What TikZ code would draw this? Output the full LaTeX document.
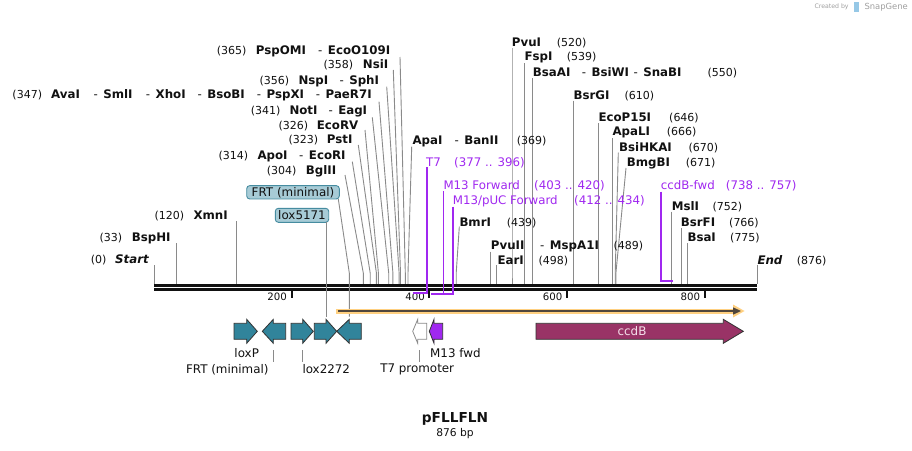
\documentclass[tikz,border=0pt]{standalone}
\usepackage{fontspec}
\setmainfont{DejaVu Sans}
\definecolor{txt}{RGB}{17,17,17}
\definecolor{leadc}{RGB}{138,138,138}
\definecolor{primc}{RGB}{160,40,240}
\definecolor{tealc}{RGB}{49,132,155}
\definecolor{boxfill}{RGB}{167,203,214}
\definecolor{boxline}{RGB}{70,140,160}
\definecolor{ccdbc}{RGB}{153,51,102}
\definecolor{ccdbtxt}{RGB}{245,225,235}
\definecolor{orangec}{RGB}{255,208,128}
\definecolor{darkc}{RGB}{80,70,60}
\definecolor{outl}{RGB}{50,50,50}
\definecolor{logoc}{RGB}{160,160,160}
\definecolor{logob}{RGB}{150,200,230}
\newcommand\leader[4]{%
  \coordinate (#1t) at (#2,#3);
  \coordinate (#1b) at (#4,284);
  \draw[leadc, line width=0.9pt] (#1t) -- (#4,273) -- (#1b);}
\newcommand\rarrow[4]{%
  \filldraw[fill=#4, draw=outl, line width=0.8pt] (#1,323.3) -- (#2,323.3) -- (#2,319.3) -- (#3,331.3) -- (#2,343.3) -- (#2,339.3) -- (#1,339.3) -- cycle;}
\newcommand\larrow[4]{%
  \filldraw[fill=#4, draw=outl, line width=0.8pt] (#1,331.3) -- (#2,319.3) -- (#2,323.3) -- (#3,323.3) -- (#3,339.3) -- (#2,339.3) -- (#2,343.3) -- cycle;}
\begin{document}
\begin{tikzpicture}[x=1pt,y=-1pt,
  num/.style={anchor=base west, inner sep=0pt, font=\fontsize{11}{13}\selectfont, text=txt},
  enz/.style={anchor=base west, inner sep=0pt, font=\fontsize{11.8}{13}\selectfont\bfseries, text=txt},
  primtxt/.style={anchor=base west, inner sep=0pt, font=\fontsize{11.8}{13}\selectfont, text=primc},
  prim/.style={draw=primc, line width=1.8pt},
  ftxt/.style={inner sep=0pt, font=\fontsize{11.9}{13}\selectfont, text=txt},
  fbox/.style={draw=boxline, fill=boxfill, rounded corners=3pt, line width=0.9pt, inner sep=0pt, font=\fontsize{11.9}{13}\selectfont, text=txt},
  tlab/.style={anchor=base east, inner sep=0pt, font=\fontsize{10.2}{12}\selectfont, text=txt},
  tick/.style={draw=txt, line width=2pt},
  flead/.style={draw=leadc, line width=0.9pt}]
\useasboundingbox (0,0) rectangle (912,450);
\fill[white] (0,0) rectangle (912,450);

% ---------- leader lines ----------
\leader{s365}{400}{57}{405.3}
\leader{s358}{393.3}{70}{400.5}
\leader{s356}{386.7}{86.7}{399.1}
\leader{s347}{379}{101.7}{392.9}
\leader{s341}{372.3}{117.3}{388.7}
\leader{s326}{365}{130}{378.4}
\leader{s323}{358.3}{145}{376.4}
\leader{s314}{352.3}{161.7}{370.2}
\leader{s304}{345}{175}{363.3}
\leader{s120}{236.6}{221}{236.6}
\leader{s33}{176.9}{243.3}{176.9}
\leader{s0}{154.3}{265}{154.3}
\leader{s369}{411.7}{146.7}{408}
\leader{s520}{512}{48.3}{512}
\leader{s539}{524.8}{63.3}{524.8}
\leader{s550}{532.7}{78.3}{532.7}
\leader{s610}{573.6}{100.7}{573.6}
\leader{s646}{598.5}{123.3}{598.5}
\leader{s666}{612.4}{138.3}{612.4}
\leader{s670}{618.3}{152.7}{615.2}
\leader{s671}{626}{168}{615.9}
\leader{s752}{671.7}{211.7}{671.7}
\leader{s766}{681}{228.3}{681}
\leader{s775}{687.4}{243.3}{687.4}
\leader{s876}{757}{265}{757}
\leader{s439}{459.3}{226.7}{456.2}
\leader{s489}{490.7}{251.7}{490.7}
\leader{s498}{496.8}{265}{496.8}

% ---------- backbone ----------
\coordinate (bbL) at (154,285.3);
\coordinate (bbR) at (757,285.3);
\coordinate (bbL2) at (154,289.2);
\coordinate (bbR2) at (757,289.2);
\draw[txt, line width=2.6pt] (bbL) -- (bbR);
\draw[txt, line width=2.6pt] (bbL2) -- (bbR2);

% ticks
\draw[tick] (291.7,290.5) -- (291.7,297.5);
\draw[tick] (429.4,290.5) -- (429.4,297.5);
\draw[tick] (567.0,290.5) -- (567.0,297.5);
\draw[tick] (704.7,290.5) -- (704.7,297.5);
\node[tlab] (t200) at (287,300.5) {200};
\node[tlab] (t400) at (425,300.5) {400};
\node[tlab] (t600) at (562.6,300.5) {600};
\node[tlab] (t800) at (700.3,300.5) {800};

% ---------- primers ----------
\coordinate (p1t) at (426.6,167);
\coordinate (p1e) at (413.3,293.3);
\draw[prim] (p1t) -- (426.6,293.3) -- (p1e);
\coordinate (p2t) at (443.5,191);
\coordinate (p2e) at (431.4,294);
\draw[prim] (p2t) -- (443.5,294) -- (p2e);
\coordinate (p3t) at (452.8,206.7);
\coordinate (p3e) at (437.6,294);
\draw[prim] (p3t) -- (452.8,294) -- (p3e);
\coordinate (p4t) at (660.7,191.7);
\coordinate (p4e) at (673.3,280.7);
\draw[prim] (p4t) -- (660.7,280.7) -- (p4e);

\node[primtxt] (pl1) at (426,166.3) {T7};
\node[primtxt] (pn1) at (454,166.3) {(377 .. 396)};
\node[primtxt] (pl2) at (443.3,189) {M13 Forward};
\node[primtxt] (pn2) at (534,189) {(403 .. 420)};
\node[primtxt] (pl3) at (452.7,204) {M13/pUC Forward};
\node[primtxt] (pn3) at (574,204) {(412 .. 434)};
\node[primtxt] (pl4) at (660.7,189) {ccdB-fwd};
\node[primtxt] (pn4) at (725.7,189) {(738 .. 757)};

% ---------- enzyme labels (left) ----------
\node[num] (n365) at (216.7,54) {(365)};
\node[enz] (e365a) at (255.7,54) {PspOMI};
\node[enz] (e365b) at (318,54) {{\mdseries -}\hspace{5.5pt}EcoO109I};
\node[num] (n358) at (323.3,68) {(358)};
\node[enz] (e358) at (362.7,68) {NsiI};
\node[num] (n356) at (259.3,84) {(356)};
\node[enz] (e356a) at (298.3,84) {NspI};
\node[enz] (e356b) at (339.3,84) {{\mdseries -}\hspace{5.5pt}SphI};
\node[num] (n347) at (12.3,98.3) {(347)};
\node[enz] (e347a) at (51,98.3) {AvaI};
\node[enz] (e347b) at (93.3,98.3) {{\mdseries -}\hspace{5.5pt}SmlI};
\node[enz] (e347c) at (145.7,98.3) {{\mdseries -}\hspace{5.5pt}XhoI};
\node[enz] (e347d) at (197.3,98.3) {{\mdseries -}\hspace{5.5pt}BsoBI};
\node[enz] (e347e) at (256.7,98.3) {{\mdseries -}\hspace{5.5pt}PspXI};
\node[enz] (e347f) at (315.7,98.3) {{\mdseries -}\hspace{5.5pt}PaeR7I};
\node[num] (n341) at (250.7,114) {(341)};
\node[enz] (e341a) at (289.3,114) {NotI};
\node[enz] (e341b) at (328.3,114) {{\mdseries -}\hspace{5.5pt}EagI};
\node[num] (n326) at (278.3,129) {(326)};
\node[enz] (e326) at (316.7,129) {EcoRV};
\node[num] (n323) at (288.3,143.3) {(323)};
\node[enz] (e323) at (326.7,143.3) {PstI};
\node[num] (n314) at (218.3,159) {(314)};
\node[enz] (e314a) at (257.3,159) {ApoI};
\node[enz] (e314b) at (299,159) {{\mdseries -}\hspace{5.5pt}EcoRI};
\node[num] (n304) at (266.7,174) {(304)};
\node[enz] (e304) at (305.7,174) {BglII};
\node[num] (n120) at (154.3,219) {(120)};
\node[enz] (e120) at (193.3,219) {XmnI};
\node[num] (n33) at (99.3,241.3) {(33)};
\node[enz] (e33) at (131.7,241.3) {BspHI};
\node[num] (n0) at (90.7,263.3) {(0)};
\node[enz] (e0) at (115,263.3) {\itshape Start};

% ---------- enzyme labels (right) ----------
\node[enz] (e369a) at (412.3,144) {ApaI};
\node[enz] (e369b) at (454.3,144) {{\mdseries -}\hspace{5.5pt}BanII};
\node[num] (n369) at (516.7,144) {(369)};
\node[enz] (e520) at (511.7,46.3) {PvuI};
\node[num] (n520) at (556.7,46.3) {(520)};
\node[enz] (e539) at (524.3,60.7) {FspI};
\node[num] (n539) at (566.7,60.7) {(539)};
\node[enz] (e550a) at (532.7,76.3) {BsaAI};
\node[enz] (e550b) at (581.7,76.3) {{\mdseries -}\hspace{5.5pt}BsiWI};
\node[enz] (e550c) at (633.3,76.3) {{\mdseries -}\hspace{5.5pt}SnaBI};
\node[num] (n550) at (707.3,76.3) {(550)};
\node[enz] (e610) at (573.3,99) {BsrGI};
\node[num] (n610) at (624.3,99) {(610)};
\node[enz] (e646) at (598.3,121.3) {EcoP15I};
\node[num] (n646) at (669,121.3) {(646)};
\node[enz] (e666) at (612.3,135.7) {ApaLI};
\node[num] (n666) at (666.7,135.7) {(666)};
\node[enz] (e670) at (619,151.3) {BsiHKAI};
\node[num] (n670) at (688.3,151.3) {(670)};
\node[enz] (e671) at (626.7,166.3) {BmgBI};
\node[num] (n671) at (685.7,166.3) {(671)};
\node[enz] (e752) at (671.7,210.7) {MslI};
\node[num] (n752) at (712.3,210.7) {(752)};
\node[enz] (e766) at (680.7,226.3) {BsrFI};
\node[num] (n766) at (729,226.3) {(766)};
\node[enz] (e775) at (687.3,241.3) {BsaI};
\node[num] (n775) at (730,241.3) {(775)};
\node[enz] (e876) at (757.3,264) {\itshape End};
\node[num] (n876) at (796.7,264) {(876)};
\node[enz] (e439) at (459.3,226.3) {BmrI};
\node[num] (n439) at (506.7,226.3) {(439)};
\node[enz] (e489a) at (490.7,249) {PvuII};
\node[enz] (e489b) at (540,249) {{\mdseries -}\hspace{5.5pt}MspA1I};
\node[num] (n489) at (613.3,249) {(489)};
\node[enz] (e498) at (497.3,264) {EarI};
\node[num] (n498) at (538.3,264) {(498)};

% ---------- feature boxes above ----------
\node[fbox, minimum width=92.6pt, minimum height=13.3pt] (frtbox) at (293,192.3) {FRT (minimal)};
\node[fbox, minimum width=53.4pt, minimum height=14pt] (loxbox) at (302,215.3) {lox5171};
\coordinate (frtf) at (349.3,316.7);
\coordinate (loxf) at (326.3,316.7);
\draw[flead] (338.3,199) -- (349.3,273) -- (frtf);
\draw[flead] (326.3,222.3) -- (loxf);

% ---------- orange bar ----------
\draw[orangec, line width=5pt] (336,311) -- (737,311);
\fill[orangec] (733,304.5) -- (744.5,311) -- (733,317.5) -- cycle;
\draw[darkc, line width=1.5pt] (338,311) -- (735,311);
\fill[darkc] (733,307.3) -- (741,311) -- (733,314.7) -- cycle;

% ---------- features ----------
\rarrow{234}{246.7}{257.3}{tealc}
\larrow{262.3}{273.3}{285.7}{tealc}
\rarrow{291}{302.7}{313.3}{tealc}
\rarrow{314.3}{326}{336.7}{tealc}
\larrow{336.7}{349.3}{361.3}{tealc}
\filldraw[fill=white, draw=leadc, line width=0.8pt] (412.7,331.3) -- (417.7,319.3) -- (417.7,323.3) -- (426.7,323.3) -- (426.7,339.3) -- (417.7,339.3) -- (417.7,343.3) -- cycle;
\larrow{429.3}{434}{442.7}{primc}
\rarrow{536}{723.3}{743.3}{ccdbc}
\node[ftxt, text=ccdbtxt] (ccdb) at (632,331.3) {ccdB};

% feature labels below
\node[ftxt] (floxp) at (246.7,352.7) {loxP};
\node[ftxt] (ffrt) at (227.3,369.3) {FRT (minimal)};
\node[ftxt, anchor=west] (flox2272) at (302.3,369.3) {lox2272};
\node[ftxt] (ft7) at (417.2,369.3) {T7 promoter};
\node[ftxt, anchor=west] (fm13) at (430,352.7) {M13 fwd};
\draw[flead] (273.7,350) -- (273.7,361.7);
\draw[flead] (302.3,350) -- (302.3,361.7);
\draw[flead] (419.3,350) -- (419.3,361.7);

% title
\node[inner sep=0pt, font=\fontsize{13.7}{15}\selectfont\bfseries, text=txt] (title) at (455,419.3) {pFLLFLN};
\node[inner sep=0pt, font=\fontsize{10.7}{12}\selectfont, text=txt] (size) at (455,434) {876 bp};

% credit
\node[anchor=west, inner sep=0pt, font=\fontsize{6.2}{7}\selectfont, text=logoc] (cr1) at (814.3,7) {Created by};
\fill[logob] (853.5,2) rectangle (858.5,12);
\node[anchor=west, inner sep=0pt, font=\fontsize{8.4}{9}\selectfont, text=logoc] (cr2) at (864.3,7) {SnapGene};
\end{tikzpicture}
\end{document}
